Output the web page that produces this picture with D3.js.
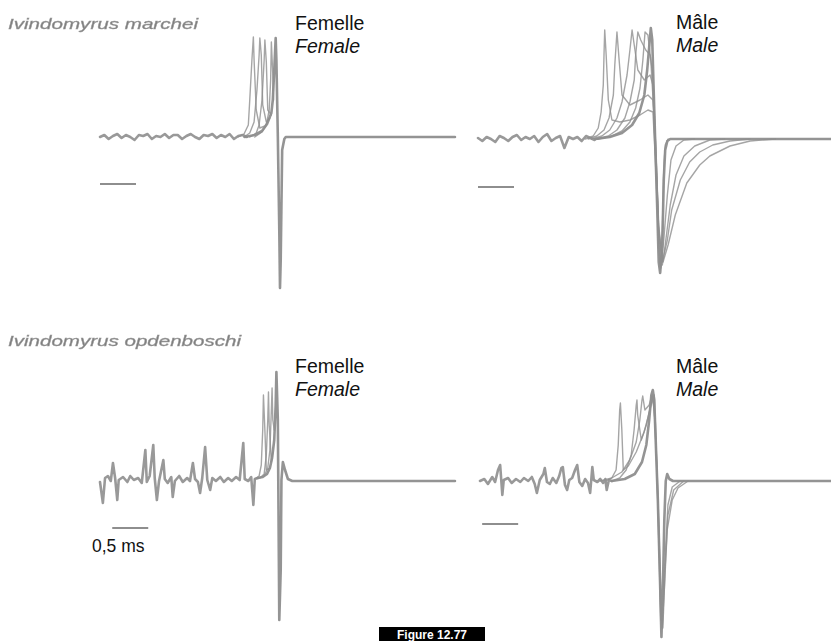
<!DOCTYPE html>
<html><head><meta charset="utf-8">
<script src="https://cdn.jsdelivr.net/npm/d3@7"></script>
<style>body{margin:0;background:#fff}svg{display:block}</style>
</head><body>
<script>
// ---------- DATA (time in ms, amplitude normalised: baseline 0) ----------
const speciesNames = ["Ivindomyrus marchei", "Ivindomyrus opdenboschi"];
const sexLabelsFr = ["Femelle", "Mâle"];
const sexLabelsEn = ["Female", "Male"];
const scaleBarMs = 0.5;
const scaleBarLabel = "0,5 ms";
const figureLabel = "Figure 12.77";

// I. marchei – female
const marcheiFemaleNoise = [[0,0.00],[0.06,0.02],[0.12,-0.02],[0.18,0.01],[0.24,0.03],[0.30,-0.01],[0.36,0.02],[0.42,0.00],[0.48,-0.03],[0.54,0.02],[0.60,0.01],[0.66,0.03],[0.72,-0.02],[0.78,0.01],[0.84,0.00],[0.90,0.03],[0.96,-0.01],[1.02,0.02],[1.08,0.02],[1.14,-0.02],[1.20,0.01],[1.26,0.03],[1.32,0.00],[1.38,-0.02],[1.44,0.02],[1.50,0.01],[1.56,0.03],[1.62,-0.01],[1.68,0.02],[1.74,0.00],[1.80,0.03],[1.86,-0.02],[1.92,0.01],[1.98,0.02],[2.04,0.00]];
const marcheiFemaleMain = [[2.01,0],[2.15,0.02],[2.25,0.06],[2.32,0.13],[2.38,0.24],[2.40,0.37],[2.42,0.67],[2.44,0.99],[2.45,0.77],[2.47,0],[2.49,-0.93],[2.50,-1.51],[2.51,-1.23],[2.53,-0.13],[2.56,-0.02],[2.58,0],[4.93,0]];
const marcheiFemaleOthers = [
  [[1.92,0],[2.00,0.03],[2.06,0.12],[2.08,0.37],[2.11,0.77],[2.13,1.00],[2.14,0.77],[2.17,0.27],[2.22,0.09],[2.29,0.11],[2.35,0.18]],
  [[2.00,0],[2.08,0.04],[2.14,0.15],[2.18,0.47],[2.21,0.82],[2.22,0.99],[2.24,0.82],[2.26,0.32],[2.31,0.15],[2.36,0.19]],
  [[2.08,0],[2.17,0.04],[2.21,0.12],[2.25,0.37],[2.28,0.77],[2.29,0.97],[2.31,0.75],[2.33,0.27],[2.38,0.22]],
  [[2.15,0],[2.25,0.05],[2.31,0.12],[2.35,0.27],[2.37,0.57],[2.38,0.95],[2.40,0.62],[2.41,0.37]]
];

// I. marchei – male
const marcheiMaleNoise = [[0,0.01],[0.06,-0.02],[0.12,0.02],[0.18,0.00],[0.24,-0.03],[0.30,0.03],[0.36,0.01],[0.42,-0.02],[0.48,0.02],[0.54,0.04],[0.60,-0.01],[0.66,0.02],[0.72,0.00],[0.78,0.03],[0.84,-0.03],[0.90,0.02],[0.96,0.05],[1.02,-0.02],[1.08,0.01],[1.14,0.03],[1.20,-0.09],[1.26,0.02],[1.32,0.00],[1.38,0.02],[1.44,-0.02],[1.50,0.03],[1.56,0.01],[1.62,-0.01]];
const marcheiMaleMain = [[1.63,0],[1.83,0.02],[2.00,0.06],[2.14,0.14],[2.24,0.26],[2.31,0.44],[2.35,0.69],[2.38,0.94],[2.40,1.11],[2.42,0.99],[2.44,0.49],[2.46,0],[2.49,-0.71],[2.51,-1.23],[2.53,-1.34],[2.56,-1.06],[2.58,-0.41],[2.60,-0.11],[2.63,-0.02],[2.67,0],[4.90,0]];
const marcheiMaleOthers = [
  [[1.67,0],[1.86,0.03],[2.00,0.08],[2.11,0.17],[2.19,0.31],[2.25,0.51],[2.29,0.79],[2.32,1.07],[2.36,1.04],[2.40,0.79],[2.44,0.29],[2.47,-0.21],[2.51,-0.96],[2.54,-1.29],[2.58,-1.01],[2.63,-0.56],[2.68,-0.21],[2.75,-0.07],[2.86,-0.01],[3.01,0]],
  [[1.64,0],[1.81,0.03],[1.93,0.09],[2.04,0.21],[2.11,0.37],[2.17,0.59],[2.19,0.84],[2.22,1.07],[2.26,0.99],[2.33,0.89],[2.39,0.84],[2.43,0.64],[2.47,-0.11],[2.51,-0.91],[2.56,-1.26],[2.60,-1.06],[2.67,-0.66],[2.75,-0.36],[2.86,-0.17],[3.01,-0.07],[3.22,-0.01],[3.43,0]],
  [[1.58,0],[1.72,0.03],[1.83,0.09],[1.93,0.21],[2.00,0.37],[2.07,0.64],[2.11,0.89],[2.14,1.09],[2.17,0.94],[2.22,0.69],[2.31,0.59],[2.39,0.64],[2.43,0.54],[2.47,-0.11],[2.51,-0.86],[2.56,-1.23],[2.63,-1.01],[2.69,-0.71],[2.81,-0.41],[2.94,-0.23],[3.08,-0.13],[3.26,-0.06],[3.50,-0.02],[3.78,0]],
  [[1.53,0],[1.65,0.03],[1.75,0.09],[1.82,0.21],[1.88,0.44],[1.90,0.74],[1.93,1.07],[1.96,0.79],[2.00,0.44],[2.11,0.34],[2.25,0.39],[2.36,0.44],[2.43,0.39],[2.47,-0.21],[2.51,-0.91],[2.57,-1.23],[2.64,-1.06],[2.74,-0.76],[2.90,-0.44],[3.08,-0.26],[3.22,-0.17],[3.50,-0.07],[3.78,-0.02],[4.13,0]],
  [[1.49,0],[1.60,0.03],[1.67,0.11],[1.71,0.27],[1.74,0.54],[1.75,0.84],[1.76,1.09],[1.78,0.84],[1.81,0.39],[1.86,0.19],[1.97,0.17],[2.11,0.19],[2.25,0.24],[2.36,0.29],[2.43,0.27],[2.47,-0.31],[2.50,-0.91],[2.53,-1.31],[2.56,-0.91],[2.58,-0.31],[2.60,-0.06],[2.64,0]]
];

// I. opdenboschi – female
const opdenFemaleNoise = [[0,-0.02],[0.04,-0.23],[0.07,0.02],[0.11,0.04],[0.15,-0.01],[0.18,0.17],[0.21,0.02],[0.24,-0.20],[0.26,0],[0.32,0.03],[0.38,-0.02],[0.42,0.04],[0.47,0],[0.53,0.02],[0.58,-0.03],[0.63,0.30],[0.65,-0.02],[0.69,0.04],[0.74,0.35],[0.76,0.02],[0.79,-0.20],[0.82,-0.01],[0.88,0.20],[0.90,0.01],[0.94,-0.03],[0.99,0.03],[1.01,-0.17],[1.04,-0.01],[1.10,0.04],[1.15,-0.02],[1.21,0.02],[1.25,-0.01],[1.29,0.17],[1.32,0.01],[1.36,-0.02],[1.39,-0.13],[1.42,0.02],[1.46,0.33],[1.49,0],[1.53,-0.10],[1.56,0.02],[1.61,-0.01],[1.67,0.03],[1.72,-0.02],[1.78,0.02],[1.83,-0.01],[1.89,0.03],[1.94,0],[1.99,0.37],[2.01,0.01],[2.06,-0.01],[2.10,0.03],[2.13,-0.25],[2.15,0.01],[2.19,0.02]];
const opdenFemaleMain = [[2.19,0.02],[2.26,0.03],[2.32,0.06],[2.36,0.12],[2.39,0.22],[2.42,0.40],[2.44,0.75],[2.45,1.08],[2.47,0.60],[2.48,-0.40],[2.49,-1.40],[2.51,-0.90],[2.52,0],[2.54,0.18],[2.57,0.10],[2.61,0.01],[2.67,-0.01],[4.93,-0.01]];
const opdenFemaleOthers = [
  [[2.15,0.01],[2.21,0.04],[2.24,0.15],[2.26,0.50],[2.27,0.85],[2.29,0.50],[2.31,0.10],[2.36,0.12]],
  [[2.22,0.02],[2.28,0.06],[2.31,0.25],[2.33,0.60],[2.34,0.88],[2.35,0.55],[2.38,0.18],[2.40,0.28]],
  [[2.28,0.04],[2.33,0.12],[2.36,0.30],[2.38,0.70],[2.39,0.92],[2.40,0.60],[2.42,0.50]]
];

// I. opdenboschi – male
const opdenMaleNoise = [[0,0],[0.06,0.02],[0.11,-0.03],[0.17,0.04],[0.21,-0.01],[0.25,0.11],[0.28,0.16],[0.31,-0.14],[0.33,0.01],[0.39,0.03],[0.44,-0.02],[0.50,0.02],[0.56,-0.01],[0.61,0.03],[0.67,0],[0.72,0.04],[0.76,-0.03],[0.79,-0.12],[0.83,0.01],[0.88,0.07],[0.90,0.13],[0.93,-0.01],[0.97,-0.03],[1.01,0.03],[1.06,-0.02],[1.10,0.05],[1.13,0.13],[1.15,0.14],[1.18,-0.04],[1.21,-0.09],[1.24,0.01],[1.28,0.03],[1.32,0.11],[1.35,0.16],[1.38,-0.01],[1.42,-0.05],[1.46,0.02],[1.50,-0.02],[1.53,-0.12],[1.56,0.14],[1.58,0.01],[1.63,-0.01],[1.67,0.02],[1.71,-0.02],[1.74,0.02],[1.76,-0.09],[1.79,0.01],[1.83,0]];
const opdenMaleMain = [[1.83,0],[2.01,0.02],[2.15,0.07],[2.25,0.19],[2.31,0.36],[2.35,0.61],[2.38,0.86],[2.40,0.91],[2.42,0.81],[2.44,0.41],[2.47,-0.19],[2.50,-0.99],[2.52,-1.56],[2.54,-1.09],[2.56,-0.39],[2.58,0],[2.60,0.07],[2.63,0.02],[2.68,0],[4.88,0]];
const opdenMaleOthers = [
  [[1.75,0],[1.83,0.03],[1.89,0.11],[1.92,0.36],[1.94,0.71],[1.95,0.78],[1.97,0.51],[1.99,0.11],[2.06,0.15],[2.17,0.29],[2.28,0.49],[2.36,0.71],[2.40,0.83],[2.43,0.61],[2.46,0.01],[2.49,-0.79],[2.51,-1.39],[2.54,-1.19],[2.58,-0.64],[2.61,-0.24],[2.67,-0.06],[2.78,0]],
  [[1.83,0],[1.94,0.03],[2.03,0.11],[2.10,0.26],[2.14,0.51],[2.17,0.76],[2.18,0.81],[2.19,0.66],[2.24,0.41],[2.31,0.56],[2.38,0.79],[2.42,0.86],[2.44,0.51],[2.47,-0.19],[2.50,-0.89],[2.53,-1.47],[2.56,-1.09],[2.60,-0.49],[2.67,-0.19],[2.75,-0.07],[2.89,0]],
  [[1.67,0],[1.83,0.03],[1.97,0.09],[2.08,0.21],[2.17,0.39],[2.22,0.61],[2.25,0.81],[2.26,0.85],[2.29,0.71],[2.35,0.76],[2.39,0.86],[2.42,0.71],[2.46,0.11],[2.49,-0.59],[2.51,-1.29],[2.54,-1.47],[2.57,-0.89],[2.61,-0.34],[2.69,-0.09],[2.83,0]]
];

// ---------- LAYOUT ----------
const W = 831, H = 641;
const pxPerMs = 72, pxPerUnit = 100;
const grey = "#8e8e8e";

const panels = [
  {noise: marcheiFemaleNoise, main: marcheiFemaleMain, others: marcheiFemaleOthers, x0: 100, yb: 137, bar: [0, -0.47], fr: sexLabelsFr[0], en: sexLabelsEn[0], lx: 295, ly: 30},
  {noise: marcheiMaleNoise, main: marcheiMaleMain, others: marcheiMaleOthers, x0: 478, yb: 139, bar: [0, -0.48], fr: sexLabelsFr[1], en: sexLabelsEn[1], lx: 676, ly: 29},
  {noise: opdenFemaleNoise, main: opdenFemaleMain, others: opdenFemaleOthers, x0: 100, yb: 480, bar: [0.17, -0.48], fr: sexLabelsFr[0], en: sexLabelsEn[0], lx: 295, ly: 373},
  {noise: opdenMaleNoise, main: opdenMaleMain, others: opdenMaleOthers, x0: 480, yb: 481, bar: [0.03, -0.43], fr: sexLabelsFr[1], en: sexLabelsEn[1], lx: 676, ly: 373}
];

const svg = d3.select("body").append("svg").attr("width", W).attr("height", H)
  .style("font-family", "'Liberation Sans', Arial, Helvetica, sans-serif");
svg.append("rect").attr("width", W).attr("height", H).attr("fill", "#fff");

const defs = svg.append("defs");
defs.append("filter").attr("id", "soft").attr("x", "-5%").attr("y", "-5%").attr("width", "110%").attr("height", "110%")
  .append("feGaussianBlur").attr("stdDeviation", 0.7);
defs.append("filter").attr("id", "softTxt")
  .append("feGaussianBlur").attr("stdDeviation", 0.5);

panels.forEach(p => {
  const x = d3.scaleLinear().domain([0, 5]).range([p.x0, p.x0 + 5 * pxPerMs]);
  const y = d3.scaleLinear().domain([0, 1]).range([p.yb, p.yb - pxPerUnit]);
  const line = d3.line().x(d => x(d[0])).y(d => y(d[1]));
  const g = svg.append("g").attr("filter", "url(#soft)").attr("fill", "none").attr("stroke", grey)
    .attr("stroke-linejoin", "round").attr("stroke-linecap", "round");
  g.append("path").attr("d", line(p.noise)).attr("stroke-width", 2.6).attr("stroke-opacity", 0.9);
  p.others.forEach(tr => g.append("path").attr("d", line(tr)).attr("stroke-width", 1.4).attr("stroke-opacity", 0.8));
  g.append("path").attr("d", line(p.main)).attr("stroke-width", 2.6).attr("stroke-opacity", 0.95);
  // scale bar
  g.append("line")
    .attr("x1", x(p.bar[0])).attr("x2", x(p.bar[0] + scaleBarMs))
    .attr("y1", y(p.bar[1])).attr("y2", y(p.bar[1]))
    .attr("stroke-width", 2).attr("stroke-linecap", "butt");
  // sex labels
  svg.append("text").attr("x", p.lx).attr("y", p.ly).attr("font-size", 19.5).attr("fill", "#111").text(p.fr);
  svg.append("text").attr("x", p.lx).attr("y", p.ly + 23).attr("font-size", 19.5).attr("font-style", "italic").attr("fill", "#111").text(p.en);
});

// species names
svg.append("text").attr("x", 8).attr("y", 29).attr("font-size", 15).attr("font-style", "italic")
  .attr("fill", "#7e7e7e").attr("textLength", 190).attr("lengthAdjust", "spacingAndGlyphs")
  .attr("stroke", "#9a9a9a").attr("stroke-width", 0.4)
  .attr("filter", "url(#softTxt)").text(speciesNames[0]);
svg.append("text").attr("x", 8).attr("y", 346).attr("font-size", 15).attr("font-style", "italic")
  .attr("fill", "#7e7e7e").attr("textLength", 233).attr("lengthAdjust", "spacingAndGlyphs")
  .attr("stroke", "#9a9a9a").attr("stroke-width", 0.4)
  .attr("filter", "url(#softTxt)").text(speciesNames[1]);

// scale bar label
svg.append("text").attr("x", 92).attr("y", 552).attr("font-size", 17.5).attr("fill", "#111").text(scaleBarLabel);

// figure label
svg.append("rect").attr("x", 379).attr("y", 627).attr("width", 106).attr("height", 14).attr("fill", "#000");
svg.append("text").attr("x", 432).attr("y", 639).attr("text-anchor", "middle").attr("font-size", 12)
  .attr("font-weight", "bold").attr("fill", "#fff").text(figureLabel);
</script>
</body></html>
